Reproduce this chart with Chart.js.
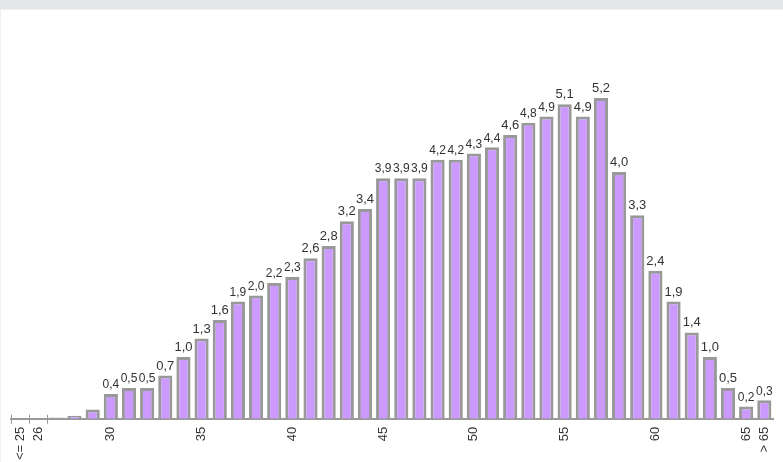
<!DOCTYPE html>
<html>
<head>
<meta charset="utf-8">
<script src="https://cdn.jsdelivr.net/npm/chart.js@4"></script>
<style>
    html, body { margin: 0; padding: 0; background: #fff; }
    .topbar { height: 9px; background: #e5e6e8; border-bottom: 1px solid #eef0f2; }
    .panel { position: relative; width: 782px; height: 452px; border-left: 1px solid #eef0f2; }
</style>
</head>
<body>
<div class="topbar"></div>
<div class="panel"><canvas id="ageChart"></canvas></div>
<script>
// Categories (age) and share values in percent
const ageLabels = ['<= 25', '26', '27', '28', '29', '30', '31', '32', '33', '34',
    '35', '36', '37', '38', '39', '40', '41', '42', '43', '44',
    '45', '46', '47', '48', '49', '50', '51', '52', '53', '54',
    '55', '56', '57', '58', '59', '60', '61', '62', '63', '64',
    '65', '> 65'];
const shareValues = [0, 0, 0.02, 0.05, 0.15, 0.4, 0.5, 0.5, 0.7, 1.0,
    1.3, 1.6, 1.9, 2.0, 2.2, 2.3, 2.6, 2.8, 3.2, 3.4,
    3.9, 3.9, 3.9, 4.2, 4.2, 4.3, 4.4, 4.6, 4.8, 4.9,
    5.1, 4.9, 5.2, 4.0, 3.3, 2.4, 1.9, 1.4, 1.0, 0.5,
    0.2, 0.3];
// Tick labels that are actually printed
const shownTicks = ['<= 25', '26', '30', '35', '40', '45', '50', '55', '60', '65', '> 65'];

const FONT = '"Liberation Sans", Arial, sans-serif';

// Value labels above bars + the small tick marks at the left end of the axis
const valueLabels = {
    id: 'valueLabels',
    afterDatasetsDraw(chart) {
        const ctx = chart.ctx;
        const meta = chart.getDatasetMeta(0);
        ctx.save();
        ctx.fillStyle = '#333';
        ctx.textAlign = 'center';
        ctx.textBaseline = 'bottom';
        meta.data.forEach((bar, i) => {
            const v = shareValues[i];
            if (v < 0.2) return;
            const prev = i > 0 ? shareValues[i - 1] : -9;
            const next = i < shareValues.length - 1 ? shareValues[i + 1] : -9;
            const crowded = Math.abs(v - prev) < 0.15 || Math.abs(v - next) < 0.15;
            ctx.font = (crowded ? '12px ' : '13px ') + FONT;
            ctx.fillText(v.toFixed(1).replace('.', ','), bar.x, bar.y - 3);
        });

        // tick marks between the first categories
        const xs = chart.scales.x;
        const y0 = chart.chartArea.bottom;
        const step = xs.getPixelForValue(1) - xs.getPixelForValue(0);
        ctx.strokeStyle = '#999999';
        ctx.lineWidth = 1;
        for (let i = 0; i <= 2; i++) {
            const x = Math.round(xs.getPixelForValue(i) - step / 2) + 0.5;
            ctx.beginPath();
            ctx.moveTo(x, y0 - 4);
            ctx.lineTo(x, y0 + 5);
            ctx.stroke();
        }
        ctx.restore();
    }
};

const ctx = document.getElementById('ageChart').getContext('2d');
new Chart(ctx, {
    type: 'bar',
    data: {
        labels: ageLabels,
        datasets: [{
            data: shareValues,
            backgroundColor: '#cc99ff',
            borderColor: '#999999',
            borderWidth: 3,
            barPercentage: 0.78,
            categoryPercentage: 1.0
        }]
    },
    options: {
        responsive: true,
        maintainAspectRatio: false,
        animation: false,
        layout: {
            padding: { top: 88, left: 10, right: 7, bottom: -1 }
        },
        plugins: {
            legend: { display: false },
            tooltip: { enabled: false }
        },
        scales: {
            x: {
                grid: {
                    offset: true,
                    drawOnChartArea: false,
                    drawTicks: true,
                    tickLength: 5,
                    color: 'rgba(0,0,0,0)'
                },
                border: { display: true, color: '#999999', width: 2 },
                ticks: {
                    autoSkip: false,
                    maxRotation: 90,
                    minRotation: 90,
                    color: '#333',
                    font: { size: 13, family: FONT },
                    callback: function (value) {
                        const lbl = this.getLabelForValue(value);
                        return shownTicks.includes(lbl) ? lbl : '';
                    }
                }
            },
            y: {
                display: false,
                min: 0,
                max: 5.2
            }
        }
    },
    plugins: [valueLabels]
});
</script>
</body>
</html>
